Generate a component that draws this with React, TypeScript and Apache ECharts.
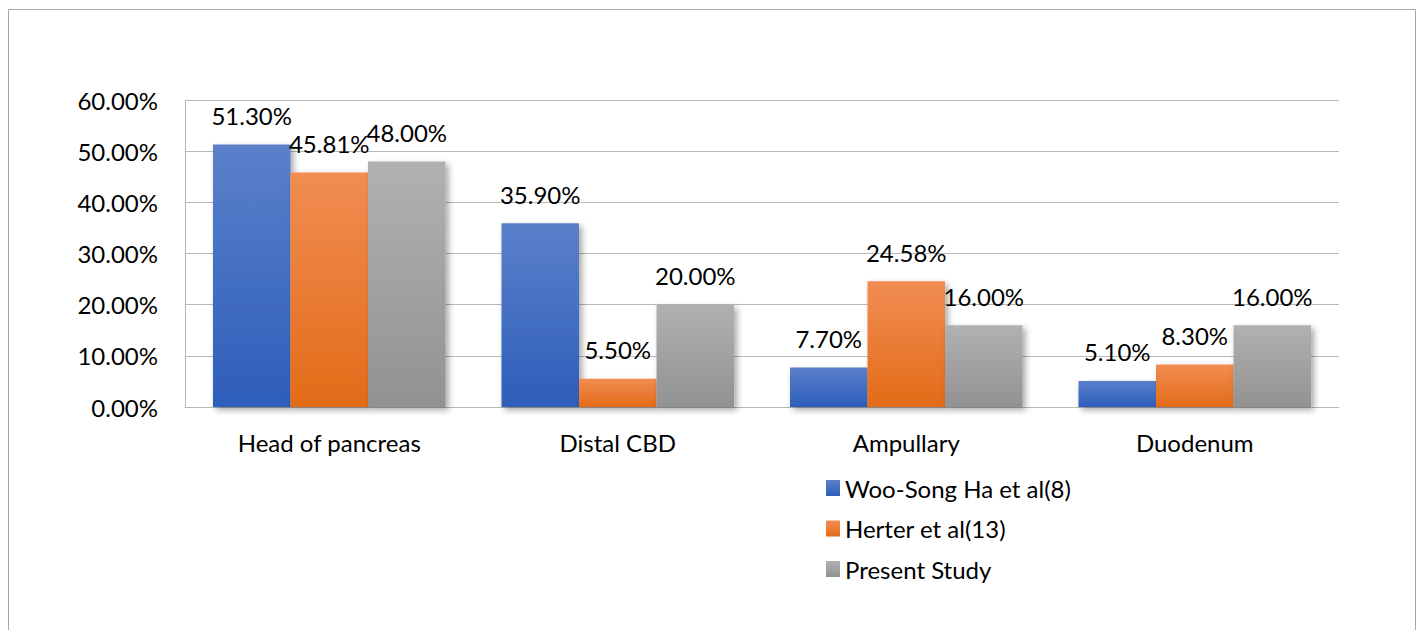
import React, { useEffect, useRef } from "react";
import * as echarts from "echarts";

// Tumour location share by study
const categories = ["Head of pancreas", "Distal CBD", "Ampullary", "Duodenum"];
const wooSongHa = [51.3, 35.9, 7.7, 5.1];
const herter = [45.81, 5.5, 24.58, 8.3];
const presentStudy = [48.0, 20.0, 16.0, 16.0];
const seriesNames = ["Woo-Song Ha et al(8)", "Herter et al(13)", "Present Study"];

const FONT = "Lato, 'Open Sans', sans-serif";
const TEXT_SIZE = 24;

const grad = (top: string, bottom: string) =>
  new echarts.graphic.LinearGradient(0, 0, 0, 1, [
    { offset: 0, color: top },
    { offset: 1, color: bottom },
  ]);

const barSeries = (name: string, data: number[], top: string, bottom: string) => ({
  name,
  type: "bar",
  data,
  barGap: "0%",
  barCategoryGap: "19.4%",
  itemStyle: {
    color: grad(top, bottom),
    shadowColor: "rgba(0,0,0,0.35)",
    shadowBlur: 6,
    shadowOffsetX: 3,
    shadowOffsetY: 3,
  },
  label: {
    show: true,
    position: "top",
    distance: 17,
    color: "#000",
    fontFamily: FONT,
    fontSize: TEXT_SIZE,
    formatter: (p: any) => p.value.toFixed(2) + "%",
  },
});

export default function App() {
  const ref = useRef<HTMLDivElement>(null);

  useEffect(() => {
    if (!ref.current) return;
    const chart = echarts.init(ref.current, undefined, { renderer: "svg" });
    chart.setOption({
      animation: false,
      backgroundColor: "#fff",
      textStyle: { fontFamily: FONT },
      graphic: [
        {
          type: "rect",
          shape: { x: 8.5, y: 9.5, width: 1407, height: 640 },
          style: { fill: "none", stroke: "#a6a6a6", lineWidth: 1 },
          silent: true,
        },
      ],
      grid: { left: 185, right: 83, top: 100, bottom: 223, containLabel: false },
      legend: {
        orient: "vertical",
        left: 826,
        top: 476,
        padding: 0,
        itemWidth: 14,
        itemHeight: 16,
        itemGap: 16.5,
        icon: "rect",
        data: seriesNames,
        textStyle: {
          fontFamily: FONT,
          fontSize: TEXT_SIZE,
          color: "#000",
        },
      },
      xAxis: {
        type: "category",
        data: categories,
        axisLine: { show: true, lineStyle: { color: "#b7b7b7", width: 1 } },
        axisTick: { show: false },
        axisLabel: { color: "#000", fontFamily: FONT, fontSize: TEXT_SIZE, margin: 23 },
      },
      yAxis: {
        type: "value",
        min: 0,
        max: 60,
        interval: 10,
        axisLine: { show: true, lineStyle: { color: "#b7b7b7", width: 1 } },
        axisTick: { show: false },
        splitLine: { show: true, lineStyle: { color: "#b7b7b7", width: 1 } },
        axisLabel: {
          color: "#000",
          fontFamily: FONT,
          fontSize: TEXT_SIZE,
          margin: 27,
          formatter: (v: number) => v.toFixed(2) + "%",
        },
      },
      series: [
        barSeries(seriesNames[0], wooSongHa, "#5b80ca", "#2d5eba"),
        barSeries(seriesNames[1], herter, "#f18d52", "#e36b18"),
        barSeries(seriesNames[2], presentStudy, "#b1b1b1", "#929292"),
      ],
    });
    return () => chart.dispose();
  }, []);

  return (
    <div
      ref={ref}
      style={{ position: "absolute", left: 0, top: 0, width: 1422, height: 630 }}
    />
  );
}
